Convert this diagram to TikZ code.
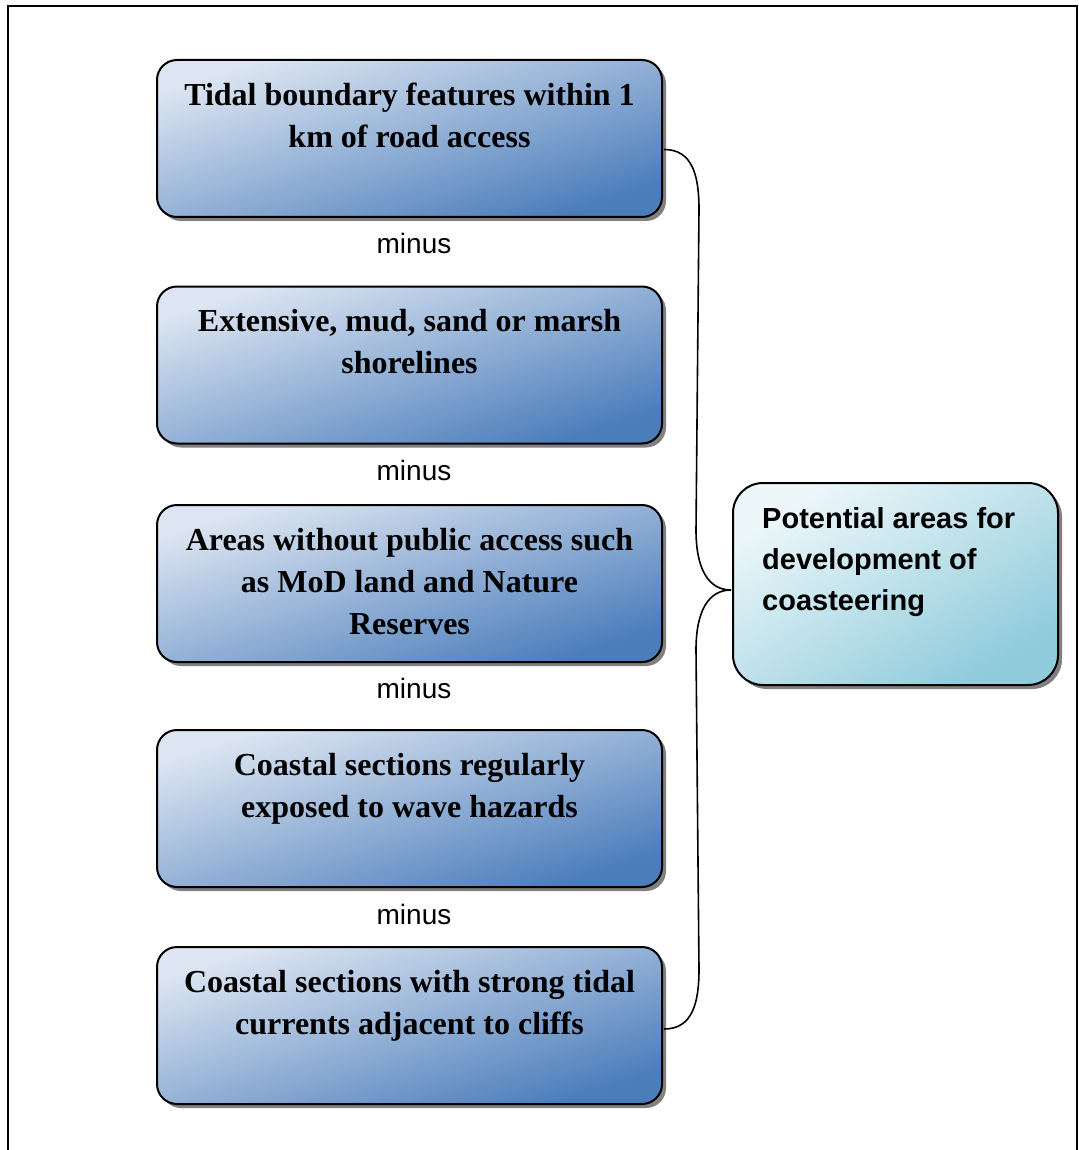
\documentclass[tikz,border=0pt]{standalone}
\usepackage{fontspec}
\setmainfont{Liberation Serif}
\setsansfont{Liberation Sans}
\usetikzlibrary{shadows,calc}
\definecolor{blueLight}{HTML}{DCE5F1}
\definecolor{blueDark}{HTML}{4B7DBB}
\definecolor{aquaLight}{HTML}{EDF7FA}
\definecolor{aquaDark}{HTML}{8FCBDB}
\begin{document}
\begin{tikzpicture}[x=1pt,y=-1pt,
  lbox/.style={draw=black, line width=2pt, rounded corners=20pt,
    minimum width=505pt, minimum height=157pt, inner sep=0pt,
    top color=blueLight, bottom color=blueDark, shading angle=18,
    general shadow={fill=black!50, shadow xshift=4pt, shadow yshift=-4pt}},
  rbox/.style={draw=black, line width=2pt, rounded corners=30pt,
    minimum width=325pt, minimum height=202pt, inner sep=0pt,
    top color=aquaLight, bottom color=aquaDark, shading angle=32,
    general shadow={fill=black!50, shadow xshift=4pt, shadow yshift=-4pt}},
  boxtext/.style={anchor=north, inner sep=0pt, align=center,
    font=\fontsize{32}{42}\selectfont\bfseries},
  rtext/.style={anchor=north west, inner sep=0pt, align=left,
    font=\sffamily\bfseries\fontsize{29}{41}\selectfont},
  minuslbl/.style={font=\sffamily\fontsize{28}{34}\selectfont, anchor=base, inner sep=0pt},
  conn/.style={line width=1.6pt},
  frame/.style={line width=2pt}
]
\useasboundingbox (0,0) rectangle (1078,1150);
\draw[frame] (7.5,1150) -- (7.5,6.5) -- (1076.5,6.5) -- (1076.5,1150);

\node[lbox] (b1) at (409.5,138.5) {};
\node[lbox] (b2) at (409.5,365) {};
\node[lbox] (b3) at (409.5,583.5) {};
\node[lbox] (b4) at (409.5,808.5) {};
\node[lbox] (b5) at (409.5,1025.5) {};
\node[rbox] (rb) at (895.5,584) {};

\node[boxtext] (t1) at ($(b1.north)+(0,16.6)$) {\strut Tidal boundary features within 1\\km of road access};
\node[boxtext] (t2) at ($(b2.north)+(0,16.6)$) {\strut Extensive, mud, sand or marsh\\shorelines};
\node[boxtext] (t3) at ($(b3.north)+(0,16.6)$) {\strut Areas without public access such\\as MoD land and Nature\\Reserves};
\node[boxtext] (t4) at ($(b4.north)+(0,16.6)$) {\strut Coastal sections regularly\\exposed to wave hazards};
\node[boxtext] (t5) at ($(b5.north)+(0,16.6)$) {\strut Coastal sections with strong tidal\\currents adjacent to cliffs};
\node[rtext] (rt) at ($(rb.north west)+(30,18)$) {\strut Potential areas for\\development of\\coasteering};

\node[minuslbl] (m1) at (414,254) {minus};
\node[minuslbl] (m2) at (414,480) {minus};
\node[minuslbl] (m3) at (414,698) {minus};
\node[minuslbl] (m4) at (414,924) {minus};

\coordinate (s1) at ($(b1.east)+(1,11)$);
\coordinate (s5) at ($(b5.east)+(1,3.5)$);
\coordinate (j) at ($(rb.west)+(-1,6)$);
\draw[conn] (s1) .. controls ($(s1)+(28,0)$) and ($(s1)+(35,25)$) .. ($(s1)+(35,60)$)
  -- ($(j)+(-35,-60)$) .. controls ($(j)+(-35,-20)$) and ($(j)+(-22,0)$) .. (j);
\draw[conn] (j) .. controls ($(j)+(-22,0)$) and ($(j)+(-35,20)$) .. ($(j)+(-35,60)$)
  -- ($(s5)+(35,-60)$) .. controls ($(s5)+(35,-25)$) and ($(s5)+(28,0)$) .. (s5);
\end{tikzpicture}
\end{document}
